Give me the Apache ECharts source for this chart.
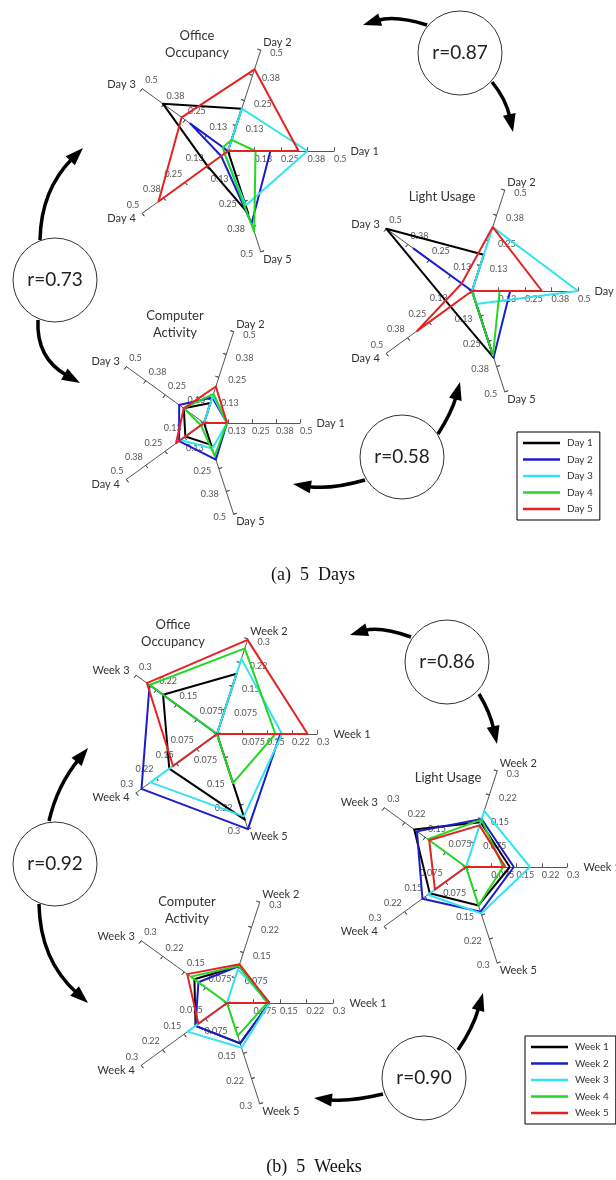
<!DOCTYPE html>
<html>
<head>
<meta charset="utf-8">
<script src="https://cdn.jsdelivr.net/npm/echarts@6/dist/echarts.min.js"></script>
<style>
  html, body { margin: 0; padding: 0; background: #fff; }
  #chart { width: 616px; height: 1180px; }
</style>
</head>
<body>
<div id="chart"></div>
<script>
// Axis (spoke) names and tick labels
const dayNames = ['Day 1', 'Day 2', 'Day 3', 'Day 4', 'Day 5'];
const weekNames = ['Week 1', 'Week 2', 'Week 3', 'Week 4', 'Week 5'];
const dayTickLabels = ['0.13', '0.25', '0.38', '0.5'];
const weekTickLabels = ['0.075', '0.15', '0.22', '0.3'];
const dayMax = 0.5;
const weekMax = 0.3;

// Each row is one series (Day 1..Day 5); values follow the spokes Day 1..Day 5
const officeDays = [
  [0.00, 0.21, 0.38, 0.12, 0.31],
  [0.20, 0.00, 0.22, 0.04, 0.36],
  [0.375, 0.21, 0.00, 0.02, 0.27],
  [0.13, 0.055, 0.03, 0.02, 0.40],
  [0.333, 0.405, 0.27, 0.405, 0.00]
];
const lightDays = [
  [0.00, 0.18, 0.50, 0.125, 0.33],
  [0.18, 0.00, 0.34, 0.00, 0.33],
  [0.50, 0.317, 0.00, 0.00, 0.065],
  [0.13, 0.00, 0.00, 0.00, 0.32],
  [0.33, 0.317, 0.06, 0.32, 0.00]
];
const computerDays = [
  [0.00, 0.11, 0.13, 0.12, 0.12],
  [0.12, 0.14, 0.16, 0.16, 0.20],
  [0.12, 0.15, 0.00, 0.15, 0.14],
  [0.12, 0.16, 0.13, 0.02, 0.18],
  [0.12, 0.20, 0.13, 0.18, 0.00]
];

// Each row is one series (Week 1..Week 5); values follow the spokes Week 1..Week 5
const officeWeeks = [
  [0.00, 0.19, 0.20, 0.177, 0.27],
  [0.19, 0.00, 0.25, 0.28, 0.30],
  [0.195, 0.237, 0.00, 0.247, 0.26],
  [0.175, 0.27, 0.25, 0.00, 0.155],
  [0.272, 0.297, 0.26, 0.163, 0.00]
];
const lightWeeks = [
  [0.13, 0.14, 0.19, 0.133, 0.12],
  [0.142, 0.15, 0.18, 0.16, 0.14],
  [0.19, 0.175, 0.00, 0.14, 0.145],
  [0.11, 0.148, 0.14, 0.00, 0.12],
  [0.117, 0.13, 0.135, 0.114, 0.00]
];
const computerWeeks = [
  [0.12, 0.11, 0.114, 0.11, 0.12],
  [0.12, 0.11, 0.10, 0.11, 0.12],
  [0.12, 0.10, 0.00, 0.138, 0.133],
  [0.114, 0.11, 0.127, 0.00, 0.098],
  [0.12, 0.115, 0.139, 0.10, 0.00]
];

// Correlation labels between the three measures
const corrDays = ['r=0.87', 'r=0.73', 'r=0.58'];
const corrWeeks = ['r=0.86', 'r=0.92', 'r=0.90'];

const seriesColors = ['#000000', '#1c1cc8', '#33e4f0', '#22d822', '#e42222'];
const SANS = 'Lato, "Open Sans", sans-serif';

// Tick labels sit on the clockwise side of every spoke
const spokeLabelPlacement = [
  { align: 'left', verticalAlign: 'top', margin: -4 },
  { align: 'left', verticalAlign: 'middle', margin: -10 },
  { align: 'left', verticalAlign: 'bottom', margin: -5 },
  { align: 'right', verticalAlign: 'bottom', margin: -5 },
  { align: 'right', verticalAlign: 'middle', margin: -8 }
];

// Radar frames: center, radius and spoke set for the six plots
const frames = [
  { center: [228, 151], radius: 106, names: dayNames, max: dayMax, ticks: dayTickLabels },
  { center: [472, 291], radius: 106, names: dayNames, max: dayMax, ticks: dayTickLabels },
  { center: [204, 423], radius: 96, names: dayNames, max: dayMax, ticks: dayTickLabels },
  { center: [217, 734], radius: 100, names: weekNames, max: weekMax, ticks: weekTickLabels },
  { center: [466, 867], radius: 101, names: weekNames, max: weekMax, ticks: weekTickLabels },
  { center: [227, 1003], radius: 106, names: weekNames, max: weekMax, ticks: weekTickLabels }
];

function makeRadar(f) {
  const step = f.max / 4;
  return {
    center: f.center,
    radius: f.radius,
    startAngle: 0,
    shape: 'polygon',
    splitNumber: 4,
    indicator: f.names.map((n, i) => ({
      name: n, min: 0, max: f.max,
      axisLabel: Object.assign({}, spokeLabelPlacement[i])
    })),
    nameGap: 8,
    axisName: { color: '#333', fontSize: 11, fontFamily: SANS },
    axisLine: { show: true, lineStyle: { color: '#555', width: 1 } },
    axisTick: { show: true, length: 3.5, lineStyle: { color: '#555', width: 1 } },
    axisLabel: {
      show: true,
      fontSize: 9,
      color: '#555',
      fontFamily: SANS,
      formatter: function (v) {
        const k = Math.round(v / step);
        return k <= 0 ? '' : f.ticks[k - 1];
      }
    },
    splitLine: { show: false },
    splitArea: { show: false }
  };
}

// Same frame again, only drawing the other half of each tick so ticks cross the spoke
function makeTickOverlay(f) {
  return {
    center: f.center,
    radius: f.radius,
    startAngle: 0,
    shape: 'polygon',
    splitNumber: 4,
    indicator: f.names.map(n => ({ name: n, min: 0, max: f.max })),
    axisName: { show: false },
    axisLine: { show: false },
    axisTick: { show: true, inside: true, length: 3.5, lineStyle: { color: '#555', width: 1 } },
    axisLabel: { show: false },
    splitLine: { show: false },
    splitArea: { show: false },
    silent: true
  };
}

function makeSeries(radarIndex, rows, names) {
  return {
    type: 'radar',
    radarIndex: radarIndex,
    symbol: 'none',
    silent: true,
    z: 3,
    data: rows.map((vals, i) => ({
      name: names[i],
      value: vals,
      lineStyle: { color: seriesColors[i], width: 2 },
      itemStyle: { color: seriesColors[i] }
    }))
  };
}

// Curved arrow: quadratic curve from p0 towards tip, with a filled head
function arrow(p0, c, tip) {
  const L = 18, W = 6.5;
  let dx = tip[0] - c[0], dy = tip[1] - c[1];
  const len = Math.hypot(dx, dy);
  dx /= len; dy /= len;
  const bx = tip[0] - dx * L, by = tip[1] - dy * L;
  const ex = tip[0] - dx * (L - 3), ey = tip[1] - dy * (L - 3);
  return [
    {
      type: 'bezierCurve',
      shape: { x1: p0[0], y1: p0[1], cpx1: c[0], cpy1: c[1], x2: ex, y2: ey },
      style: { stroke: '#000', lineWidth: 3.5, fill: null },
      z: 10
    },
    {
      type: 'polygon',
      shape: { points: [tip, [bx - dy * W, by + dx * W], [bx + dy * W, by - dx * W]] },
      style: { fill: '#000' },
      z: 10
    }
  ];
}

function corrCircle(cx, cy, text) {
  return [
    { type: 'circle', shape: { cx: cx, cy: cy, r: 42 }, style: { fill: '#fff', stroke: '#333', lineWidth: 1 }, z: 11 },
    { type: 'text', x: cx, y: cy, style: { text: text, fill: '#222', font: '19px ' + SANS, align: 'center', verticalAlign: 'middle' }, z: 12 }
  ];
}

function title(x, y, text) {
  return { type: 'text', x: x, y: y, style: { text: text, fill: '#333', font: '13px ' + SANS, align: 'center', verticalAlign: 'top', lineHeight: 17 }, z: 5 };
}

const graphics = [].concat(
  title(197, 27, 'Office\nOccupancy'),
  title(442, 188, 'Light Usage'),
  title(175, 307, 'Computer\nActivity'),
  title(173, 616, 'Office\nOccupancy'),
  title(448, 769, 'Light Usage'),
  title(187, 893, 'Computer\nActivity'),
  arrow([427, 25], [395, 15], [363, 25]),
  arrow([492, 82], [506, 99], [513, 132]),
  arrow([40, 240], [41, 190], [83, 148]),
  arrow([38, 320], [36, 358], [80, 383]),
  arrow([438, 434], [452, 412], [460, 382]),
  arrow([365, 480], [330, 490], [293, 484]),
  arrow([411, 637], [380, 626], [350, 635]),
  arrow([479, 694], [490, 712], [497, 744]),
  arrow([49, 821], [57, 786], [88, 748]),
  arrow([39, 904], [40, 960], [88, 1003]),
  arrow([458, 1050], [473, 1028], [483, 993]),
  arrow([383, 1094], [350, 1102], [314, 1098]),
  corrCircle(460, 53, corrDays[0]),
  corrCircle(55, 280, corrDays[1]),
  corrCircle(402, 457, corrDays[2]),
  corrCircle(447, 662, corrWeeks[0]),
  corrCircle(55, 864, corrWeeks[1]),
  corrCircle(424, 1078, corrWeeks[2]),
  [
    { type: 'text', x: 313, y: 575, style: { text: '(a)  5  Days', fill: '#111', font: '18px "Liberation Serif", serif', align: 'center', verticalAlign: 'middle' } },
    { type: 'text', x: 314, y: 1167, style: { text: '(b)  5  Weeks', fill: '#111', font: '18px "Liberation Serif", serif', align: 'center', verticalAlign: 'middle' } }
  ]
);

function legend(names, left, top) {
  return {
    data: names,
    orient: 'vertical',
    left: left,
    top: top,
    selectedMode: false,
    icon: 'rect',
    itemWidth: 37,
    itemHeight: 2.5,
    itemGap: 4.5,
    padding: [5, 7, 5, 6],
    borderColor: '#000',
    borderWidth: 1,
    backgroundColor: '#fff',
    textStyle: { fontSize: 10, color: '#333', fontFamily: SANS, lineHeight: 12, padding: [0, 0, 0, 2] }
  };
}

const chart = echarts.init(document.getElementById('chart'), null, { renderer: 'canvas' });
chart.setOption({
  animation: false,
  backgroundColor: '#fff',
  radar: frames.map(makeRadar).concat(frames.map(makeTickOverlay)),
  legend: [legend(dayNames, 517, 432), legend(weekNames, 525, 1036)],
  series: [
    makeSeries(0, officeDays, dayNames),
    makeSeries(1, lightDays, dayNames),
    makeSeries(2, computerDays, dayNames),
    makeSeries(3, officeWeeks, weekNames),
    makeSeries(4, lightWeeks, weekNames),
    makeSeries(5, computerWeeks, weekNames)
  ],
  graphic: { elements: graphics }
});
</script>
</body>
</html>
